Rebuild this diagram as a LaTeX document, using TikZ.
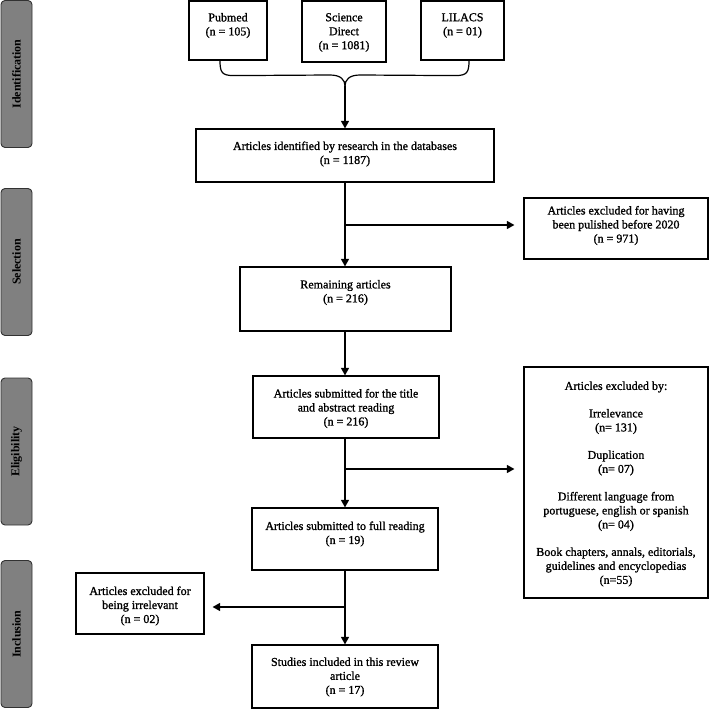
\documentclass[tikz,border=0pt]{standalone}
\usepackage{fontspec}
\setmainfont{Liberation Serif}
\newfontfamily\heavyserif[FakeBold=1.2]{Liberation Serif}
\usetikzlibrary{arrows.meta,calc}
\definecolor{sidegray}{RGB}{128,128,128}
\definecolor{sideedge}{RGB}{50,50,50}
\tikzset{
  box/.style={draw=black, line width=1.2pt, inner sep=0pt, fill=white},
  txt/.style={align=center, inner sep=0pt, font=\heavyserif\fontsize{12}{14}\selectfont},
  side/.style={draw=sideedge, fill=sidegray, line width=0.9pt, rounded corners=4pt, minimum width=31pt, minimum height=147pt, inner sep=0pt},
  sidetxt/.style={rotate=90, font=\fontsize{12}{14}\selectfont\bfseries, inner sep=0pt},
  conn/.style={line width=1.2pt, black},
  arr/.style={conn, -{Triangle[length=7.5pt,width=8pt]}},
}
\begin{document}
\begin{tikzpicture}[x=1pt,y=1pt]
\useasboundingbox (0,0) rectangle (710,-709);
% side bars
\node[side] (s1) at (16.5,-74) {};
\node[sidetxt] (s1t) at (s1.center) {Identification};
\node[side] (s2) at (16.5,-262) {};
\node[sidetxt] (s2t) at (s2.center) {Selection};
\node[side] (s3) at (16.5,-451.5) {};
\node[sidetxt] (s3t) at (s3.center) {Eligibility};
\node[side] (s4) at (16.5,-634) {};
\node[sidetxt] (s4t) at (s4.center) {Inclusion};
% boxes
\node[box, minimum width=78pt, minimum height=59pt] (pub) at (228,-30.5) {};
\node[txt] (pubt) at (228,-25.5) {Pubmed\\(n = 105)};
\node[box, minimum width=84pt, minimum height=61pt] (sd) at (344,-31.5) {};
\node[txt] (sdt) at (344,-32.5) {Science\\Direct\\(n = 1081)};
\node[box, minimum width=83pt, minimum height=59pt] (lil) at (462.5,-30.5) {};
\node[txt] (lilt) at (462.5,-25.5) {LILACS\\(n = 01)};
\node[box, minimum width=298pt, minimum height=53pt] (ident) at (345,-155.5) {};
\node[txt] (identt) at (345,-154) {Articles identified by research in the databases\\(n = 1187)};
\node[box, minimum width=184pt, minimum height=61pt] (excl1) at (616,-228.5) {};
\node[txt] (excl1t) at (616,-225.5) {Articles excluded for having\\been pulished before 2020\\(n = 971)};
\node[box, minimum width=211pt, minimum height=64pt] (rem) at (345.5,-299) {};
\node[txt] (remt) at (345.5,-292.5) {Remaining articles\\(n = 216)};
\node[box, minimum width=186pt, minimum height=62pt] (tar) at (346,-407) {};
\node[txt] (tart) at (346,-408.5) {Articles submitted for the title\\and abstract reading\\(n = 216)};
\node[box, minimum width=184pt, minimum height=231pt] (exclby) at (616,-482.5) {};
\node[txt] (exclbyt) at (616,-484) {Articles excluded by:\\[13.5pt]
Irrelevance\\(n= 131)\\[13.5pt]
Duplication\\(n= 07)\\[13.5pt]
Different language from\\portuguese, english or spanish\\(n= 04)\\[13.5pt]
Book chapters, annals, editorials,\\guidelines and encyclopedias\\(n=55)};
\node[box, minimum width=186pt, minimum height=62pt] (full) at (345,-539) {};
\node[txt] (fullt) at (345,-534) {Articles submitted to full reading\\(n = 19)};
\node[box, minimum width=128pt, minimum height=61pt] (irr) at (140,-603.5) {};
\node[txt] (irrt) at (140,-606) {Articles excluded for\\being irrelevant\\(n = 02)};
\node[box, minimum width=186pt, minimum height=63pt] (incl) at (345,-676.5) {};
\node[txt] (inclt) at (345,-677) {Studies included in this review\\article\\(n = 17)};
% brace
\coordinate (bl) at ($(pub.south)+(-8,0)$);
\coordinate (br) at ($(lil.south)+(6.5,0)$);
\coordinate (bt) at (ident.north |- 0,-86);
\draw[conn] (bl) .. controls ($(bl)+(0,-12)$) and ($(bl)+(2,-15)$) .. ($(bl)+(14,-15)$)
  -- ($(bt)+(-15,11)$) .. controls ($(bt)+(-4,11)$) and ($(bt)+(0,6)$) .. (bt);
\draw[conn] (br) .. controls ($(br)+(0,-12)$) and ($(br)+(-2,-15)$) .. ($(br)+(-14,-15)$)
  -- ($(bt)+(15,11)$) .. controls ($(bt)+(4,11)$) and ($(bt)+(0,6)$) .. (bt);
\draw[arr] (bt) -- (ident.north);
% trunk
\draw[arr] (ident.south) -- (ident.south |- rem.north);
\coordinate (b1) at (ident.south |- 0,-225);
\draw[arr, shorten >=9pt] (b1) -- (excl1.west |- b1);
\draw[arr] (ident.south |- rem.south) -- (ident.south |- tar.north);
\draw[arr] (ident.south |- tar.south) -- (ident.south |- full.north);
\coordinate (b2) at (ident.south |- 0,-469);
\draw[arr, shorten >=9pt] (b2) -- (exclby.west |- b2);
\draw[arr] (ident.south |- full.south) -- (ident.south |- incl.north);
\coordinate (b3) at (ident.south |- 0,-607);
\draw[arr, shorten >=8pt] (b3) -- (irr.east |- b3);
\end{tikzpicture}
\end{document}
